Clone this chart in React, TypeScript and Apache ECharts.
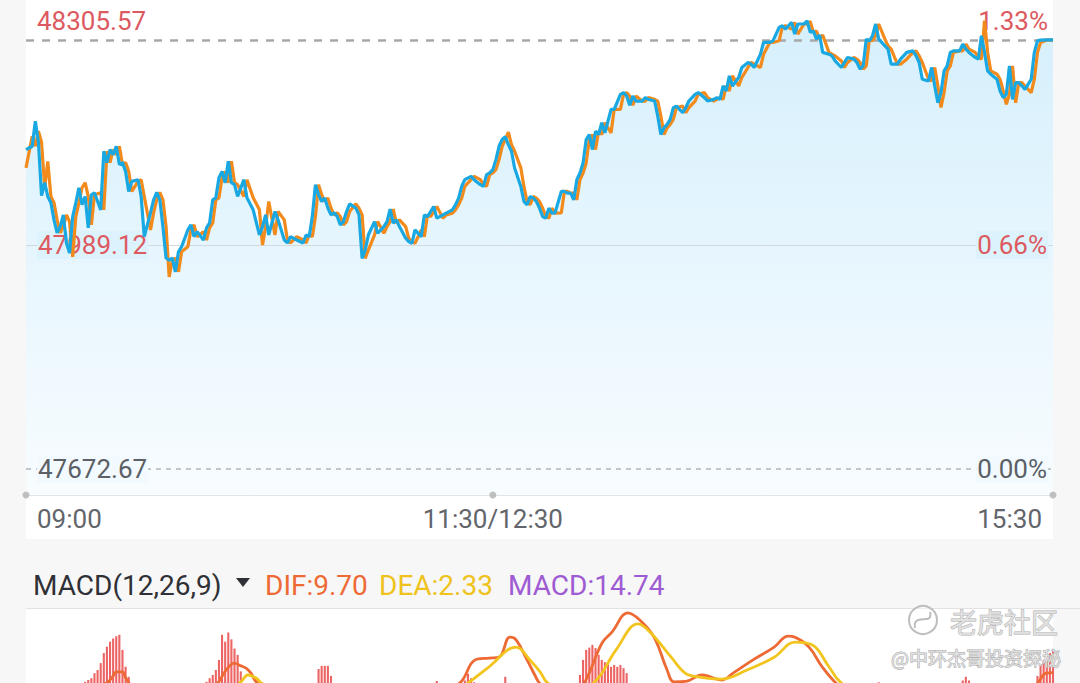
import React, { useEffect, useRef } from 'react';
import * as echarts from 'echarts';

// ---- reference levels ----
const prevClose = 47672.67;
const midPrice = 47989.12;
const dayHigh = 48305.57;
const lastClose = 48279.0;

// ---- time axis (minutes after 09:00, lunch break removed) ----
const timeTicks = [0, 150, 330];
const timeLabels = ['09:00', '11:30/12:30', '15:30'];

// ---- last price (blue) [minute, price] ----
const lastPrice: [number, number][] = [
  [0,48123.9],[2,48128.6],[3,48164.1],[4,48133.9],[5,48058.7],[6,48077.1],[7,48057.7],[8,48048.7],[9,48024.6],[10,48006.2],
  [11,48015.1],[12,48031.7],[13,47992.0],[14,47977.8],[15,48029.3],[16,48048.7],[17,48070.0],[18,48045.9],[19,48057.7],[20,48013.2],
  [21,48060.1],[22,48062.9],[24,48038.8],[25,48121.5],[26,48105.5],[27,48123.9],[28,48116.8],[29,48128.6],[30,48102.7],[31,48105.5],
  [32,48093.1],[33,48064.8],[34,48079.0],[36,48081.4],[37,48057.7],[38,48000.9],[40,48034.5],[41,48053.0],[42,48063.3],[43,48053.0],
  [44,48015.1],[45,47970.7],[46,47967.8],[47,47970.7],[48,47951.2],[49,47979.6],[50,47986.7],[52,48010.4],[53,48017.5],[54,48000.9],
  [55,48008.0],[57,47996.2],[58,48013.2],[59,48020.3],[60,48053.0],[61,48055.8],[62,48084.2],[63,48093.1],[64,48077.1],[65,48107.3],
  [66,48077.1],[67,48074.3],[68,48057.7],[70,48081.4],[71,48055.8],[73,48038.8],[75,48003.3],[76,48015.1],[77,48031.7],[78,48003.3],
  [80,48036.4],[81,48024.6],[83,47996.2],[84,47992.0],[85,48000.9],[87,47996.2],[89,47992.0],[90,48003.3],[91,48000.9],[92,48029.3],
  [93,48074.3],[94,48060.1],[95,48050.6],[96,48055.4],[97,48041.2],[98,48031.7],[99,48034.5],[100,48029.3],[101,48017.5],[102,48022.2],
  [103,48036.4],[104,48047.3],[106,48041.2],[107,48031.7],[108,47970.2],[109,47982.0],[110,48003.3],[112,48022.2],[113,48005.7],[115,48015.1],
  [116,48022.2],[117,48039.8],[118,48019.9],[119,48024.6],[120,48015.1],[122,47998.6],[123,47993.8],[124,47991.5],[125,48010.4],[127,48000.9],
  [128,48031.7],[129,48029.3],[130,48036.4],[131,48043.5],[132,48027.0],[134,48031.7],[135,48034.1],[137,48038.8],[138,48045.9],[139,48055.4],
  [140,48071.9],[141,48081.4],[143,48086.0],[144,48081.4],[146,48074.3],[147,48071.9],[148,48088.5],[149,48090.9],[150,48095.6],[151,48109.7],
  [152,48128.6],[153,48138.1],[154,48142.0],[155,48131.0],[156,48121.5],[157,48098.0],[159,48071.9],[160,48050.6],[161,48045.9],[162,48057.7],
  [163,48055.4],[164,48050.6],[165,48041.2],[166,48029.3],[167,48027.0],[168,48041.2],[169,48034.1],[170,48034.5],[172,48064.8],[173,48064.8],
  [174,48062.5],[175,48062.5],[176,48053.0],[177,48081.4],[178,48090.9],[179,48105.1],[180,48138.1],[181,48145.2],[182,48123.9],[183,48149.9],
  [184,48145.2],[185,48161.8],[186,48147.6],[188,48180.7],[189,48180.7],[191,48202.0],[192,48204.4],[193,48199.6],[194,48186.4],[195,48199.6],
  [196,48192.5],[198,48192.5],[199,48197.3],[200,48194.9],[202,48192.5],[203,48171.2],[204,48145.2],[205,48154.7],[206,48159.4],[207,48166.5],
  [208,48183.1],[209,48185.4],[211,48176.0],[212,48183.1],[213,48192.5],[215,48202.0],[216,48204.4],[218,48197.3],[219,48192.5],[221,48194.9],
  [222,48197.3],[223,48194.9],[224,48213.8],[225,48206.7],[226,48228.0],[227,48213.8],[229,48225.7],[230,48239.9],[232,48247.0],[233,48244.6],
  [234,48239.9],[236,48258.7],[237,48275.3],[239,48275.3],[240,48277.6],[242,48296.6],[243,48298.9],[244,48294.2],[246,48303.7],[247,48287.1],
  [248,48301.3],[250,48301.3],[251,48305.57],[252,48289.5],[253,48291.4],[254,48280.0],[255,48285.7],[256,48261.2],[258,48258.7],[259,48256.3],
  [260,48249.2],[262,48239.9],[263,48247.0],[264,48254.1],[266,48251.7],[267,48247.0],[268,48237.5],[269,48242.1],[270,48280.0],[271,48277.6],
  [272,48284.7],[273,48301.3],[274,48280.0],[276,48270.5],[277,48265.8],[278,48244.6],[280,48244.6],[281,48251.7],[283,48261.2],[285,48263.4],
  [286,48256.3],[287,48247.0],[288,48223.3],[290,48220.9],[291,48239.9],[292,48213.8],[293,48190.2],[294,48204.4],[295,48235.0],[296,48242.1],
  [297,48261.2],[298,48263.4],[300,48263.4],[301,48272.9],[302,48265.8],[303,48261.2],[305,48254.1],[306,48251.7],[307,48284.7],[308,48261.2],
  [309,48235.0],[310,48230.4],[312,48223.3],[313,48206.7],[314,48197.3],[315,48202.0],[316,48242.1],[317,48194.9],[318,48218.6],[319,48218.6],
  [320,48213.8],[321,48209.1],[323,48223.3],[324,48261.2],[325,48277.6],[326,48278.6],[328,48279.0],[330,48279.0],
];

// ---- second line (orange) [minute, price] ----
const avgPrice: [number, number][] = [
  [0,48098.0],[2,48142.8],[3,48128.6],[4,48150.0],[5,48133.9],[6,48070.0],[7,48107.3],[8,48057.7],[9,48048.7],[10,48024.6],
  [11,48006.2],[12,48015.1],[13,48031.7],[14,48022.2],[15,47972.5],[16,48029.3],[17,48048.7],[18,48070.0],[19,48077.1],[20,48057.7],
  [21,48017.5],[22,48060.1],[24,48062.9],[25,48038.8],[26,48121.5],[27,48105.5],[28,48123.9],[29,48116.8],[30,48128.6],[31,48102.7],
  [32,48105.5],[33,48093.1],[34,48064.8],[36,48079.0],[37,48081.4],[38,48057.7],[40,48010.4],[41,48034.5],[42,48053.0],[43,48063.3],
  [44,48053.0],[45,48015.1],[46,47944.1],[47,47967.8],[48,47970.7],[49,47951.2],[50,47979.6],[52,47986.7],[53,48010.4],[54,48017.5],
  [55,48000.9],[57,48008.0],[58,47996.2],[59,48013.2],[60,48020.3],[61,48053.0],[62,48055.8],[63,48084.2],[64,48093.1],[65,48077.1],
  [66,48107.3],[67,48077.1],[68,48074.3],[70,48057.7],[71,48081.4],[73,48055.8],[75,48038.8],[76,47989.1],[77,48015.1],[78,48050.6],
  [80,48003.3],[81,48036.4],[83,48024.6],[84,47996.2],[85,47992.0],[87,48000.9],[89,47996.2],[90,47992.0],[91,48003.3],[92,48000.9],
  [93,48029.3],[94,48074.3],[95,48060.1],[96,48050.6],[97,48055.4],[98,48041.2],[99,48031.7],[100,48034.5],[101,48029.3],[102,48017.5],
  [103,48022.2],[104,48036.4],[106,48047.3],[107,48041.2],[108,48031.7],[109,47970.2],[110,47982.0],[112,48003.3],[113,48022.2],[115,48005.7],
  [116,48015.1],[117,48022.2],[118,48039.8],[119,48019.9],[120,48024.6],[122,48015.1],[123,47998.6],[124,47993.8],[125,47991.5],[127,48010.4],
  [128,48000.9],[129,48031.7],[130,48029.3],[131,48036.4],[132,48043.5],[134,48027.0],[135,48031.7],[137,48034.1],[138,48038.8],[139,48045.9],
  [140,48055.4],[141,48071.9],[143,48081.4],[144,48086.0],[146,48081.4],[147,48074.3],[148,48071.9],[149,48088.5],[150,48090.9],[151,48095.6],
  [152,48109.7],[153,48128.6],[154,48138.1],[155,48148.5],[156,48131.0],[157,48121.5],[159,48098.0],[160,48071.9],[161,48050.6],[162,48045.9],
  [163,48057.7],[164,48055.4],[165,48050.6],[166,48041.2],[167,48029.3],[168,48027.0],[169,48041.2],[170,48034.1],[172,48034.5],[173,48064.8],
  [174,48064.8],[175,48062.5],[176,48062.5],[177,48053.0],[178,48081.4],[179,48090.9],[180,48105.1],[181,48138.1],[182,48145.2],[183,48123.9],
  [184,48149.9],[185,48145.2],[186,48161.8],[188,48147.6],[189,48180.7],[191,48180.7],[192,48202.0],[193,48204.4],[194,48199.6],[195,48186.4],
  [196,48199.6],[198,48192.5],[199,48192.5],[200,48197.3],[202,48194.9],[203,48192.5],[204,48171.2],[205,48145.2],[206,48154.7],[207,48159.4],
  [208,48166.5],[209,48183.1],[211,48185.4],[212,48176.0],[213,48183.1],[215,48192.5],[216,48202.0],[218,48204.4],[219,48197.3],[221,48192.5],
  [222,48194.9],[223,48197.3],[224,48194.9],[225,48213.8],[226,48206.7],[227,48228.0],[229,48213.8],[230,48225.7],[232,48239.9],[233,48247.0],
  [234,48244.6],[236,48239.9],[237,48258.7],[239,48275.3],[240,48275.3],[242,48277.6],[243,48296.6],[244,48298.9],[246,48294.2],[247,48303.7],
  [248,48287.1],[250,48301.3],[251,48301.3],[252,48305.0],[253,48289.5],[254,48291.4],[255,48280.0],[256,48285.7],[258,48261.2],[259,48258.7],
  [260,48256.3],[262,48249.2],[263,48239.9],[264,48247.0],[266,48254.1],[267,48251.7],[268,48247.0],[269,48237.5],[270,48242.1],[271,48280.0],
  [272,48277.6],[273,48284.7],[274,48301.3],[276,48280.0],[277,48270.5],[278,48265.8],[280,48244.6],[281,48244.6],[283,48251.7],[285,48261.2],
  [286,48263.4],[287,48256.3],[288,48247.0],[290,48223.3],[291,48220.9],[292,48239.9],[293,48213.8],[294,48183.5],[295,48204.4],[296,48235.0],
  [297,48242.1],[298,48261.2],[300,48263.4],[301,48263.4],[302,48272.9],[303,48265.8],[305,48261.2],[306,48254.1],[307,48251.7],[308,48306.0],
  [309,48261.2],[310,48235.0],[312,48230.4],[313,48223.3],[314,48206.7],[315,48187.8],[316,48202.0],[317,48242.1],[318,48190.0],[319,48218.6],
  [320,48218.6],[321,48213.8],[323,48204.4],[324,48223.3],[325,48261.2],[326,48275.0],[328,48278.6],[330,48279.0],
];

// ---- MACD (12,26,9) ----
const macdLatest = { dif: 9.7, dea: 2.33, macd: 14.74 };
const macdBars: [number, number][] = [
  [19,7.7],[20,8.1],[21,8.5],[22,9.6],[23,10.3],[24,11.8],[25,14.0],[26,15.4],[27,16.5],[28,17.2],[29,17.7],[30,18.0],[31,14.7],[32,11.0],[33,8.8],
  [58,7.7],[59,8.5],[60,9.2],[61,10.3],[62,12.5],[63,18.0],[64,16.5],[65,18.5],[66,17.0],[67,15.0],[68,13.6],[69,10.0],
  [94,10.5],[95,11.2],[96,11.2],[97,11.2],[98,9.0],
  [132,7.9],[141,8.0],[142,9.5],[143,8.5],[144,7.6],[154,8.8],
  [178,9.2],[179,12.5],[180,14.7],[181,15.2],[182,15.8],[183,15.1],[184,13.6],[185,12.5],[186,12.0],[187,11.8],[188,11.0],[189,11.4],[190,11.0],[191,11.4],[192,10.7],[193,9.6],
  [274,7.6],[301,8.0],[302,8.8],[303,8.0],
  [325,9.0],[326,11.5],[327,12.5],[328,13.0],[329,14.0],[330,14.74],
];
const difLine: [number, number][] = [
  [0,2],[12,4],[20,6],[26,7.5],[28,9.0],[29,9.9],[31,9.9],[32,8.6],[35,6],[45,3],[55,5],[61,7],[63.6,9.6],[65.2,11.0],[66.8,11.8],
  [69.1,11.2],[70.7,10.7],[72.3,9.6],[74,7.7],[80,5],[95,6],[110,3],[125,4],[135,6],[139.8,7.7],[144.3,12.5],[148.8,12.9],[152,13.1],
  [155.5,17.5],[157.5,16.9],[161,12.5],[163.5,9.2],[165,7.4],[170,4],[176,5],[179.6,7.7],[185.1,16.2],[188.3,18.6],[193.4,22.8],
  [197.3,21.2],[201.8,17.5],[206,10.3],[208.2,7.7],[212,7.8],[217.2,9.2],[223.6,8.1],[227.2,9.6],[233.6,12.5],[240.4,15.3],[244.9,17.7],
  [247,17.5],[251.6,15.3],[255.8,11.0],[260.3,7.4],[268,3],[285,-2],[305,1],[318,3],[325,7.4],[327.8,9.6],[330,9.7],
];
const deaLine: [number, number][] = [
  [0,1],[20,2],[35,3],[50,2.5],[62,4],[69.1,7.7],[71.3,9.2],[74,8.5],[75.7,7.4],[85,5],[110,3],[130,2],[135,4],[142,7.4],
  [148.8,11.0],[157.5,15.3],[161.9,12.5],[165.2,9.9],[167.7,7.4],[175,5],[182.8,7.7],[189.6,14.7],[196.7,20.4],[200.5,18.6],
  [207.3,13.1],[211.8,9.6],[215.9,8.8],[223.6,8.3],[231.7,10.3],[240.4,13.1],[247.1,16.4],[252.6,15.8],[258,11.0],[261.6,7.7],
  [270,4],[290,0],[315,1.5],[330,2.33],
];

// ---- colours ----
const RED = '#dc5a5f';
const GREY_TXT = '#5c5f66';
const BLUE = '#1aa8e2';
const ORANGE = '#f28a1c';

function buildOption() {
  // main panel pixel geometry (layout only)
  const gridTop = 11;
  const gridBottomPx = 495;
  const highPx = 21;
  const closePx = 469;
  const k = (dayHigh - prevClose) / (closePx - highPx);
  const yMax = dayHigh + (highPx - gridTop) * k;
  const yMin = prevClose - (gridBottomPx - closePx) * k;
  // MACD panel: visible window of the indicator scale (the lower part is cut off by the screen)
  const macdTopPx = 612;
  const macdZeroPx = 717;
  const macdPerPx = 0.219;
  const macdMax = (macdZeroPx - macdTopPx) * macdPerPx;
  const macdMin = (macdZeroPx - 683) * macdPerPx;

  const pct = (v: number) => (((v - prevClose) / prevClose) * 100).toFixed(2) + '%';
  const labelKey = (v: number) =>
    Math.abs(v - dayHigh) < 0.01 ? 'hi' : Math.abs(v - midPrice) < 0.01 ? 'mid' : 'lo';
  const rich = {
    hi: { color: RED, fontSize: 26, fontFamily: 'Roboto' },
    mid: { color: RED, fontSize: 26, fontFamily: 'Roboto', backgroundColor: '#dcf2fc', padding: [1, 1] },
    lo: { color: GREY_TXT, fontSize: 26, fontFamily: 'Roboto', backgroundColor: '#f2faff', padding: [1, 1] },
  };
  const yLabelValues = [prevClose, midPrice, dayHigh];
  const hdr = (x: number, text: string, fill: string) => ({
    type: 'text', z: 10, x, y: 585,
    style: { text, fill, fontSize: 28, fontFamily: 'Roboto', verticalAlign: 'middle' },
  });

  return {
    animation: false,
    backgroundColor: '#f7f7f7',
    textStyle: { fontFamily: 'Roboto' },
    graphic: [
      { type: 'rect', z: -10, silent: true, shape: { x: 26, y: 0, width: 1027, height: 539 }, style: { fill: '#ffffff' } },
      { type: 'rect', z: -10, silent: true, shape: { x: 26, y: 609, width: 1027, height: 80 }, style: { fill: '#ffffff' } },
      { type: 'line', z: 10, silent: true, shape: { x1: 26, y1: 608.5, x2: 1080, y2: 608.5 }, style: { stroke: '#e2e2e2', lineWidth: 1 } },
      hdr(33, 'MACD(12,26,9)', '#2f3136'),
      { type: 'polygon', z: 10, shape: { points: [[236, 578], [250, 578], [243, 587]] }, style: { fill: '#2f3136' } },
      hdr(265, 'DIF:' + macdLatest.dif.toFixed(2), '#ee6a35'),
      hdr(379, 'DEA:' + macdLatest.dea.toFixed(2), '#efc21c'),
      hdr(508, 'MACD:' + macdLatest.macd.toFixed(2), '#9e5bd3'),
      // watermark
      { type: 'circle', z: 20, silent: true, shape: { cx: 923, cy: 620, r: 14 }, style: { fill: 'rgba(255,255,255,0.4)', stroke: '#bdbdbd', lineWidth: 2 } },
      { type: 'bezierCurve', z: 20, silent: true, shape: { x1: 915, y1: 628, x2: 930, y2: 612, cpx1: 912, cpy1: 612, cpx2: 934, cpy2: 626 }, style: { stroke: '#bdbdbd', lineWidth: 2, fill: 'none' } },
      { type: 'text', z: 20, silent: true, x: 950, y: 621, style: { text: '老虎社区', fill: 'rgba(225,225,225,0.95)', stroke: '#aeaeae', lineWidth: 1, fontSize: 27, fontFamily: 'Noto Sans CJK SC', verticalAlign: 'middle' } },
      { type: 'text', z: 20, silent: true, x: 891, y: 657, style: { text: '@中环杰哥投资探秘', fill: 'rgba(225,225,225,0.95)', stroke: '#aeaeae', lineWidth: 1, fontSize: 19, fontFamily: 'Noto Sans CJK SC', verticalAlign: 'middle' } },
    ],
    grid: [
      { left: 26, right: 27, top: gridTop, height: gridBottomPx - gridTop },
      { left: 26, right: 27, top: macdTopPx, bottom: 0 },
    ],
    xAxis: [
      {
        type: 'value', gridIndex: 0, min: 0, max: 330, z: 2,
        axisLine: { show: true, lineStyle: { color: '#e4e4e4', width: 1 } },
        axisTick: { show: false }, splitLine: { show: false },
        axisLabel: {
          customValues: timeTicks,
          formatter: (v: number) => timeLabels[timeTicks.indexOf(v)] ?? '',
          alignMinLabel: 'left', alignMaxLabel: 'right',
          padding: [0, 11, 0, 11],
          fontSize: 26, color: '#62656b', margin: 11, fontFamily: 'Roboto',
        },
      },
      { type: 'value', gridIndex: 1, min: 0, max: 330, show: false },
    ],
    yAxis: [
      {
        type: 'value', gridIndex: 0, min: yMin, max: yMax, position: 'left', z: 1.5,
        axisLine: { show: false }, axisTick: { show: false }, splitLine: { show: false },
        axisLabel: {
          inside: true, margin: 11, customValues: yLabelValues,
          formatter: (v: number) => `{${labelKey(v)}|${v.toFixed(2)}}`,
          rich,
        },
      },
      {
        type: 'value', gridIndex: 0, min: yMin, max: yMax, position: 'right', z: 1.5,
        axisLine: { show: false }, axisTick: { show: false }, splitLine: { show: false },
        axisLabel: {
          inside: true, margin: 5, customValues: yLabelValues,
          formatter: (v: number) => `{${labelKey(v)}|${pct(v)}}`,
          rich,
        },
      },
      { type: 'value', gridIndex: 1, min: macdMin, max: macdMax, show: false },
    ],
    series: [
      {
        name: 'area', type: 'line', xAxisIndex: 0, yAxisIndex: 0, z: 1, silent: true,
        data: lastPrice, showSymbol: false, lineStyle: { width: 0 },
        areaStyle: {
          color: new echarts.graphic.LinearGradient(0, 0, 0, 1, [
            { offset: 0, color: '#c4e9fb' },
            { offset: 1, color: '#f5fbff' },
          ]),
        },
        markLine: {
          z: 1.2, silent: true, symbol: 'none', label: { show: false }, animation: false,
          data: [
            { yAxis: midPrice, lineStyle: { type: 'solid', color: '#d2dade', width: 1 } },
            { yAxis: prevClose, lineStyle: { type: [5, 5], color: '#b4b4b4', width: 1.5 } },
            { yAxis: lastClose, lineStyle: { type: [8, 8], color: '#a8a8a8', width: 2.6 } },
          ],
        },
      },
      {
        name: 'avg', type: 'line', xAxisIndex: 0, yAxisIndex: 0, z: 3, silent: true,
        data: avgPrice, showSymbol: false, lineStyle: { color: ORANGE, width: 3.2 },
      },
      {
        name: 'price', type: 'line', xAxisIndex: 0, yAxisIndex: 0, z: 4, silent: true,
        data: lastPrice, showSymbol: false, lineStyle: { color: BLUE, width: 3.2 },
      },
      {
        name: 'ticks', type: 'scatter', xAxisIndex: 0, yAxisIndex: 0, z: 5, silent: true, clip: false,
        data: timeTicks.map((t) => [t, yMin]), symbolSize: 7, itemStyle: { color: '#b0b0b0' },
      },
      {
        name: 'MACD', type: 'bar', xAxisIndex: 1, yAxisIndex: 2, silent: true,
        data: macdBars, barWidth: 2.1, itemStyle: { color: '#ec6464' },
      },
      {
        name: 'DIF', type: 'line', xAxisIndex: 1, yAxisIndex: 2, silent: true, smooth: 0.4,
        data: difLine, showSymbol: false, lineStyle: { color: '#ee6a35', width: 2.8 },
      },
      {
        name: 'DEA', type: 'line', xAxisIndex: 1, yAxisIndex: 2, silent: true, smooth: 0.4,
        data: deaLine, showSymbol: false, lineStyle: { color: '#f2c51e', width: 2.8 },
      },
    ],
  };
}

export default function App() {
  const ref = useRef<HTMLDivElement>(null);
  useEffect(() => {
    document.body.style.margin = '0';
    const chart = echarts.init(ref.current!, null, { renderer: 'svg' });
    chart.setOption(buildOption() as any);
    return () => chart.dispose();
  }, []);
  return <div ref={ref} style={{ position: 'fixed', left: 0, top: 0, width: 1080, height: 683 }} />;
}
